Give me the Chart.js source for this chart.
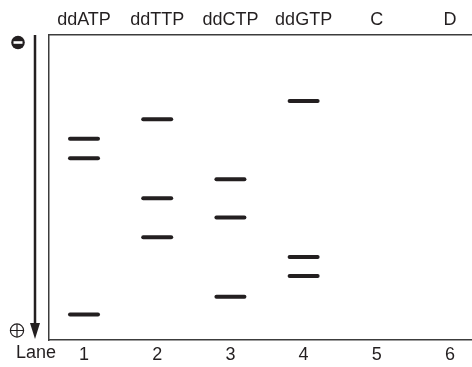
<!DOCTYPE html>
<html>
<head>
<meta charset="utf-8">
<script src="https://cdn.jsdelivr.net/npm/chart.js@4"></script>
<style>
  html, body { margin: 0; padding: 0; background: #fff; overflow: hidden; }
  canvas { display: block; }
</style>
</head>
<body>
<canvas id="gel" width="472" height="367"></canvas>
<script>
// Lanes of the sequencing gel
const laneNumbers = [1, 2, 3, 4, 5, 6];
const laneNames = ['ddATP', 'ddTTP', 'ddCTP', 'ddGTP', 'C', 'D'];

// Band migration distance (0 = well / top, 100 = bottom of gel)
const bandsATP = [34.0, 40.4, 91.6];
const bandsTTP = [27.6, 53.5, 66.3];
const bandsCTP = [47.3, 59.8, 85.8];
const bandsGTP = [21.6, 72.8, 79.0];
const bandsC = [];
const bandsD = [];

const bandsByLane = [bandsATP, bandsTTP, bandsCTP, bandsGTP, bandsC, bandsD];

const ink = '#231f20';
const frame = '#3c3c3c';
const font = { family: 'Liberation Sans, Arial, sans-serif', size: 18 };

// flatten lanes -> scatter points
const bandPoints = [];
bandsByLane.forEach((bands, i) => {
    bands.forEach(d => bandPoints.push({ x: laneNumbers[i], y: d }));
});

const laneTicks = (scale) => {
    scale.ticks = laneNumbers.map(v => ({ value: v }));
};

// no extra room for label overhang
const fixHeight = (h) => (s) => {
    s.height = h;
    s.paddingLeft = 0;
    s.paddingRight = 0;
};

// electrode symbols, run arrow and the "Lane" label
const gelExtras = {
    id: 'gelExtras',
    beforeDatasetsDraw(chart) {
        chart.ctx.lineCap = 'round';
    },
    afterDraw(chart) {
        const ctx = chart.ctx;
        const area = chart.chartArea;
        const ax = 35;
        ctx.save();
        ctx.lineCap = 'butt';

        // arrow
        ctx.strokeStyle = ink;
        ctx.fillStyle = ink;
        ctx.lineWidth = 2.5;
        ctx.beginPath();
        ctx.moveTo(ax, area.top);
        ctx.lineTo(ax, area.bottom - 14);
        ctx.stroke();
        ctx.beginPath();
        ctx.moveTo(ax - 5, area.bottom - 17);
        ctx.lineTo(ax + 5, area.bottom - 17);
        ctx.lineTo(ax, area.bottom - 1);
        ctx.closePath();
        ctx.fill();

        // cathode (filled minus)
        ctx.beginPath();
        ctx.arc(18, 42.5, 6.8, 0, Math.PI * 2);
        ctx.fill();
        ctx.fillStyle = '#fff';
        ctx.fillRect(13.5, 41.2, 9, 2.6);

        // anode (circled plus)
        ctx.lineWidth = 1.2;
        ctx.beginPath();
        ctx.arc(17, 330.5, 6.6, 0, Math.PI * 2);
        ctx.stroke();
        ctx.beginPath();
        ctx.moveTo(10.4, 330.5);
        ctx.lineTo(23.6, 330.5);
        ctx.moveTo(17, 323.9);
        ctx.lineTo(17, 337.1);
        ctx.stroke();

        // Lane label
        ctx.fillStyle = ink;
        ctx.font = font.size + 'px ' + font.family;
        ctx.textAlign = 'left';
        ctx.textBaseline = 'top';
        ctx.fillText('Lane', 16, area.bottom + 4);
        ctx.restore();
    }
};

new Chart(document.getElementById('gel'), {
    type: 'scatter',
    data: {
        datasets: [{
            label: 'bands',
            data: bandPoints,
            pointStyle: 'line',
            pointRadius: 14,
            pointBorderWidth: 4,
            pointBorderColor: ink,
            pointBackgroundColor: ink,
            showLine: false
        }]
    },
    options: {
        responsive: false,
        animation: false,
        events: [],
        layout: {
            autoPadding: false,
            padding: { left: 49, right: 0, top: 0, bottom: 0 }
        },
        plugins: {
            legend: { display: false },
            tooltip: { enabled: false }
        },
        scales: {
            x: {
                type: 'linear',
                position: 'bottom',
                min: 0.522,
                max: 6.3,
                afterBuildTicks: laneTicks,
                afterFit: fixHeight(27),
                grid: { display: false, drawTicks: false },
                border: { display: true, color: frame, width: 1.5 },
                ticks: {
                    color: ink,
                    font: font,
                    padding: 4,
                    autoSkip: false,
                    maxRotation: 0,
                    callback: (v) => String(v)
                }
            },
            xTop: {
                type: 'linear',
                position: 'top',
                min: 0.522,
                max: 6.3,
                afterBuildTicks: laneTicks,
                afterFit: fixHeight(35),
                grid: { display: false, drawTicks: false },
                border: { display: true, color: frame, width: 1.5 },
                ticks: {
                    color: ink,
                    font: font,
                    padding: 4,
                    autoSkip: false,
                    maxRotation: 0,
                    callback: (v) => laneNames[laneNumbers.indexOf(v)]
                }
            },
            y: {
                type: 'linear',
                reverse: true,
                min: 0,
                max: 100,
                afterFit: (s) => { s.width = 0; },
                grid: { display: false, drawTicks: false },
                border: { display: true, color: frame, width: 1.5 },
                ticks: { display: false }
            }
        }
    },
    plugins: [gelExtras]
});
</script>
</body>
</html>
